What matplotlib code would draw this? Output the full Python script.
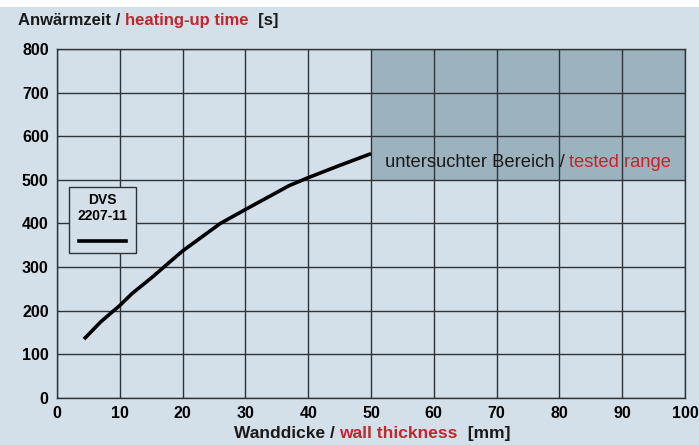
import matplotlib.pyplot as plt
from matplotlib.patches import Rectangle
from matplotlib.lines import Line2D

# curve DVS 2207-11
thickness = [4.3, 7, 10, 12, 15, 20, 26, 30, 37, 40, 45, 50]
heat_time = [135, 175, 212, 240, 275, 337, 400, 432, 487, 505, 533, 560]

x_ticks = list(range(0, 101, 10))
y_ticks = list(range(0, 801, 100))
tested_x = (50, 100)
tested_y = (500, 800)

bg = '#d3e0ea'
red = '#c0262c'
grid_c = '#2e3338'
fnt = ['Liberation Sans Narrow', 'Liberation Sans', 'DejaVu Sans']

fig = plt.figure(figsize=(6.99, 4.45), dpi=100)
fig.patch.set_facecolor(bg)
fig.add_artist(Rectangle((0, 0.985), 1, 0.015, transform=fig.transFigure,
                         facecolor='white', edgecolor='none'))
ax = fig.add_axes([0.0815, 0.1056, 0.8985, 0.7844])
ax.set_facecolor(bg)

ax.add_patch(Rectangle((tested_x[0], tested_y[0]), tested_x[1] - tested_x[0],
                       tested_y[1] - tested_y[0], facecolor='#9db2bf',
                       edgecolor='none', zorder=0.5))

ax.set_xlim(0, 100)
ax.set_ylim(0, 800)
ax.set_xticks(x_ticks)
ax.set_yticks(y_ticks)
ax.grid(True, color=grid_c, linewidth=1.0)
ax.set_axisbelow(False)
for s in ax.spines.values():
    s.set_color(grid_c)
    s.set_linewidth(1.0)
ax.tick_params(length=0, pad=6)
for lab in ax.get_xticklabels() + ax.get_yticklabels():
    lab.set_family(fnt)
    lab.set_fontweight('bold')
    lab.set_fontsize(11.5)

ax.plot(thickness, heat_time, color='black', linewidth=2.6, zorder=3,
        solid_capstyle='butt')

# legend box
ax.add_patch(Rectangle((1.9, 333), 10.7, 150, facecolor=bg, edgecolor=grid_c,
                       linewidth=1.0, zorder=4))
ax.text(7.25, 453, 'DVS', ha='center', va='center', fontsize=10,
        fontweight='bold', family=fnt, zorder=5)
ax.text(7.25, 418, '2207-11', ha='center', va='center', fontsize=10,
        fontweight='bold', family=fnt, zorder=5)
ax.add_line(Line2D([3.5, 11.0], [360, 360], color='black', linewidth=2.6, zorder=5))


def colored_row(parts, x, y, size=12, weight='bold', family=fnt, trans=None):
    # place several coloured pieces side by side, centred on x (figure coords)
    r = fig.canvas.get_renderer()
    objs = []
    for txt, col in parts:
        t = fig.text(x, y, txt, color=col, fontsize=size, fontweight=weight,
                     family=family, va='baseline', ha='left', zorder=6)
        objs.append(t)
    widths = [o.get_window_extent(r).width / fig.bbox.width for o in objs]
    return objs, widths


def place(objs, widths, start):
    for o, w in zip(objs, widths):
        o.set_x(start)
        start += w


fig.canvas.draw()
objs, w = colored_row([('Anwärmzeit / ', '#1a1a1a'), ('heating-up time', red),
                       ('  [s]', '#1a1a1a')], 0.026, 0.943, size=12)
place(objs, w, 0.026)

objs, w = colored_row([('Wanddicke / ', '#1a1a1a'), ('wall thickness', red),
                       ('  [mm]', '#1a1a1a')], 0.55, 0.015, size=12.5)
place(objs, w, 0.532 - sum(w) / 2)

# tested range label, centred in the shaded box
cx, cy = fig.transFigure.inverted().transform(ax.transData.transform((75, 530)))
objs, w = colored_row([('untersuchter Bereich / ', '#1a1a1a'), ('tested range', red)],
                      cx, cy, size=13.2, weight='normal',
                      family=['Liberation Sans', 'DejaVu Sans'])
place(objs, w, cx - sum(w) / 2)

fig.savefig('out.png', dpi=100, facecolor=bg)
